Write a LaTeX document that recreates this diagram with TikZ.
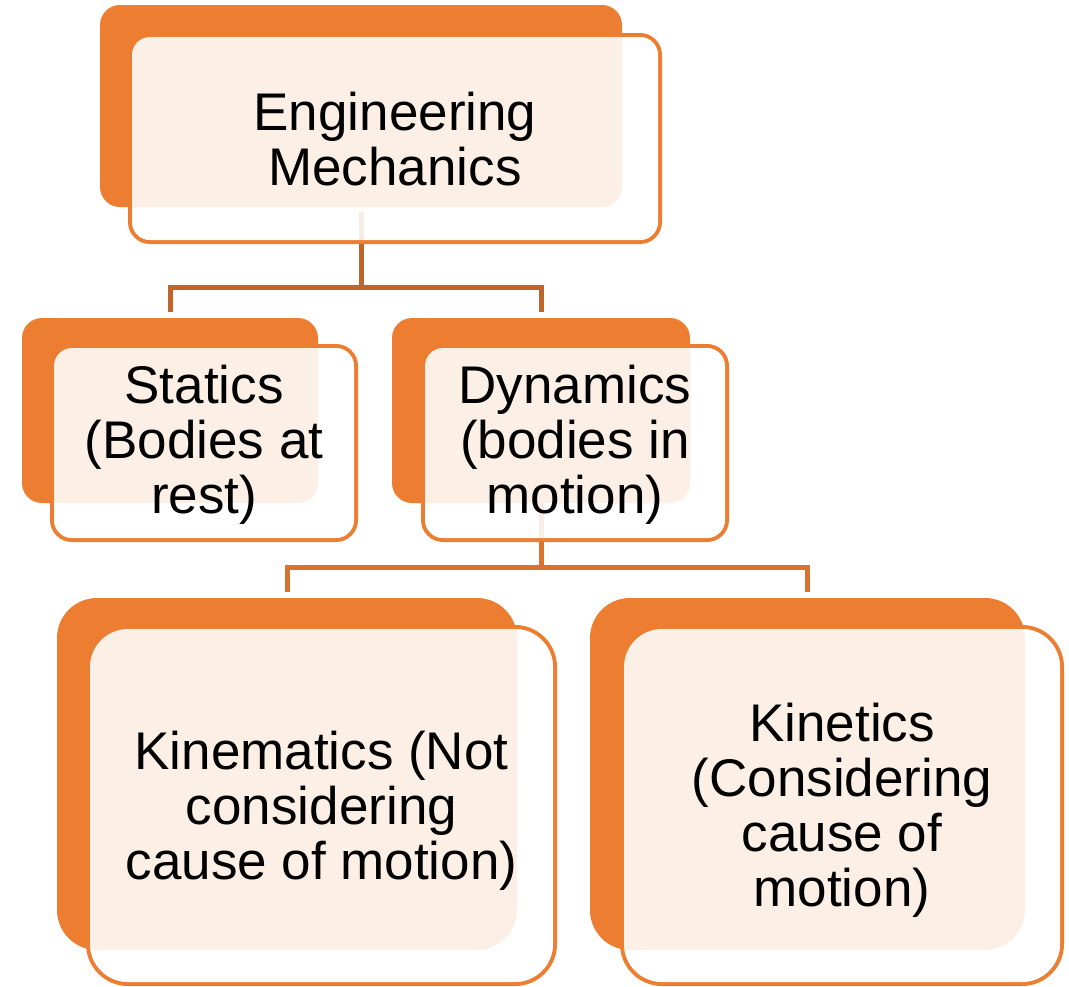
\documentclass[tikz,border=0pt]{standalone}
\usepackage{fontspec}
\setmainfont{Liberation Sans}
\usetikzlibrary{calc}
\definecolor{orangeA}{HTML}{ED7D31}
\definecolor{connA}{HTML}{C0652A}
\definecolor{connB}{HTML}{D9722F}
\pgfdeclarelayer{bg}
\pgfsetlayers{bg,main}
\begin{document}
\begin{tikzpicture}[x=1pt,y=-1pt,
  backbox/.style={rectangle, fill=orangeA, draw=none, inner sep=0pt, outer sep=0pt},
  frontline/.style={rectangle, draw=orangeA, line width=4pt, inner sep=0pt, outer sep=0pt},
  frontfill/.style={rectangle, fill=white, fill opacity=0.88, draw=none, inner sep=0pt, outer sep=0pt},
  boxtext/.style={align=center, font=\fontsize{53}{55}\selectfont, text=black, inner sep=0pt},
  conn/.style={line width=5pt}]
\useasboundingbox (0,0) rectangle (1069,986);

% Engineering Mechanics
\node[frontline, rounded corners=20pt, minimum width=530pt, minimum height=207pt] (ef) at (395,138.5) {};
\node[backbox, rounded corners=20pt, minimum width=522pt, minimum height=202pt] (eb) at (361,106) {};
\node[frontfill, rounded corners=18pt, minimum width=526pt, minimum height=203pt] (eff) at (ef) {};
\node[boxtext] (e) at ([yshift=-1pt]ef.center) {Engineering\\Mechanics};

% Statics
\node[frontline, rounded corners=20pt, minimum width=304pt, minimum height=194pt] (sf) at (204,443) {};
\node[backbox, rounded corners=20pt, minimum width=296pt, minimum height=185pt] (sb) at (170,410.5) {};
\node[frontfill, rounded corners=18pt, minimum width=300pt, minimum height=190pt] (sff) at (sf) {};
\node[boxtext] (s) at ([yshift=-2pt]sf.center) {Statics\\(Bodies at\\rest)};

% Dynamics
\node[frontline, rounded corners=20pt, minimum width=304pt, minimum height=194pt] (df) at (575,443) {};
\node[backbox, rounded corners=20pt, minimum width=298pt, minimum height=185pt] (db) at (541,410.5) {};
\node[frontfill, rounded corners=18pt, minimum width=300pt, minimum height=190pt] (dff) at (df) {};
\node[boxtext] (d) at ([yshift=-2pt]df.center) {Dynamics\\(bodies in\\motion)};

% Kinematics
\node[frontline, rounded corners=40pt, minimum width=467pt, minimum height=357pt] (kmf) at (321.5,805.5) {};
\node[backbox, rounded corners=40pt, minimum width=460pt, minimum height=352pt] (kmb) at (287,774) {};
\node[frontfill, rounded corners=38pt, minimum width=463pt, minimum height=353pt] (kmff) at (kmf) {};
\node[boxtext] (km) at ([yshift=-5pt]kmf.center) {Kinematics (Not\\considering\\cause of motion)};

% Kinetics
\node[frontline, rounded corners=40pt, minimum width=440pt, minimum height=357pt] (ktf) at (842,805.5) {};
\node[backbox, rounded corners=40pt, minimum width=435pt, minimum height=352pt] (ktb) at (807.5,774) {};
\node[frontfill, rounded corners=38pt, minimum width=436pt, minimum height=353pt] (ktff) at (ktf) {};
\node[boxtext] (kt) at ([yshift=-5pt]ktf.center) {Kinetics\\(Considering\\cause of\\motion)};

\begin{pgfonlayer}{bg}
\draw[conn, draw=connA] ([yshift=-5pt]eb.south) -- ++(0,75) -| ([yshift=6pt]sb.north);
\draw[conn, draw=connA] ([yshift=-5pt]eb.south) -- ++(0,75) -| ([yshift=6pt]db.north);
\draw[conn, draw=connB] (db.south) -- ++(0,64) -| ([yshift=6pt]kmb.north);
\draw[conn, draw=connB] (db.south) -- ++(0,64) -| ([yshift=6pt]ktb.north);
\end{pgfonlayer}
\end{tikzpicture}
\end{document}
